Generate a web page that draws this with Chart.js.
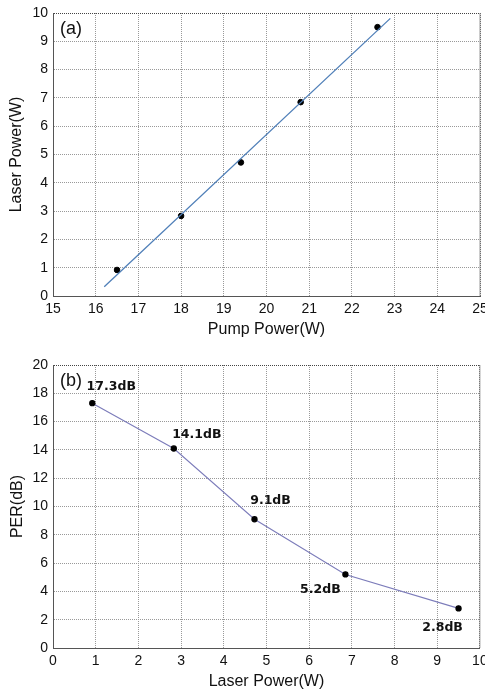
<!DOCTYPE html>
<html>
<head>
<meta charset="utf-8">
<script src="https://cdn.jsdelivr.net/npm/chart.js@4/dist/chart.umd.min.js"></script>
<style>
  body { margin: 0; background: #fff; }
  .panel { position: absolute; left: 0; width: 485px; height: 345px; }
</style>
</head>
<body>
<div class="panel" style="top:0"><canvas id="chartA" width="485" height="345"></canvas></div>
<div class="panel" style="top:345px"><canvas id="chartB" width="485" height="345"></canvas></div>
<script>
// data
var pumpPower = [16.5, 18.0, 19.4, 20.8, 22.6];
var laserPower = [0.92, 2.83, 4.72, 6.85, 9.5];
var fitPump = [16.2, 22.9];
var fitLaser = [0.33, 9.81];
var perValues = [17.3, 14.1, 9.1, 5.2, 2.8];
var perLabels = ['17.3dB', '14.1dB', '9.1dB', '5.2dB', '2.8dB'];

// pixel offsets of the dB labels from their points
var labelOffsets = [[19, -16], [23, -14], [16, -18], [-25, 15], [-16, 19]];

var tickFont = { family: '"Liberation Sans", Arial, sans-serif', size: 14 };
var titleFont = { family: '"Liberation Sans", Arial, sans-serif', size: 16, lineHeight: 1 };

function points(xs, ys) {
	var out = [];
	for (var i = 0; i < xs.length; i++) out.push({ x: xs[i], y: ys[i] });
	return out;
}

// fixed axis sizes so both plots line up like the figure
function fixWidth(w) {
	return function (scale) {
		scale.width = w;
		scale.paddingTop = 0;
		scale.paddingBottom = 0;
	};
}
function fixHeight(h) {
	return function (scale) {
		scale.height = h;
		scale.paddingLeft = 0;
		scale.paddingRight = 0;
	};
}

function gridColor(max) {
	return function (ctx) {
		return (ctx.tick && ctx.tick.value === max) ? '#444' : '#999';
	};
}

function makeAxis(min, max, step, title, titlePad, afterFit) {
	return {
		type: 'linear',
		min: min,
		max: max,
		afterFit: afterFit,
		ticks: { stepSize: step, color: '#111', font: tickFont, padding: 5 },
		grid: { color: gridColor(max), lineWidth: 1, drawTicks: false },
		border: { display: true, color: '#555', width: 1, dash: [1, 1] },
		title: { display: true, text: title, color: '#111', font: titleFont, padding: titlePad }
	};
}

// right frame line + panel letter + point labels
var framePlugin = {
	id: 'frame',
	afterDraw: function (chart, args, opts) {
		var ctx = chart.ctx;
		var a = chart.chartArea;
		ctx.save();
		ctx.strokeStyle = '#999';
		ctx.lineWidth = 1;
		ctx.beginPath();
		ctx.moveTo(a.right, a.top);
		ctx.lineTo(a.right, a.bottom);
		ctx.stroke();

		ctx.fillStyle = '#111';
		ctx.font = '18px "Liberation Sans", Arial, sans-serif';
		ctx.textBaseline = 'middle';
		ctx.textAlign = 'left';
		ctx.fillText(opts.letter, a.left + 7, a.top + 16);

		if (opts.labels) {
			var xs = chart.scales.x, ys = chart.scales.y;
			ctx.font = 'bold 12.5px "DejaVu Sans", sans-serif';
			ctx.textAlign = 'center';
			for (var i = 0; i < opts.labels.length; i++) {
				var px = xs.getPixelForValue(laserPower[i]) + labelOffsets[i][0];
				var py = ys.getPixelForValue(perValues[i]) + labelOffsets[i][1];
				ctx.fillText(opts.labels[i], px, py);
			}
		}
		ctx.restore();
	}
};

new Chart(document.getElementById('chartA'), {
	type: 'scatter',
	data: {
		datasets: [{
			data: points(fitPump, fitLaser),
			showLine: true,
			borderColor: '#4f7fb8',
			borderWidth: 1.3,
			pointRadius: 0
		}, {
			data: points(pumpPower, laserPower),
			backgroundColor: '#000',
			borderColor: '#000',
			pointRadius: 2.8
		}]
	},
	options: {
		responsive: false,
		animation: false,
		layout: { padding: { top: 13, right: 4, bottom: 0, left: 0 } },
		plugins: { legend: { display: false }, tooltip: { enabled: false }, frame: { letter: '(a)' } },
		scales: {
			x: makeAxis(15, 25, 1, 'Pump Power(W)', { top: 0, bottom: 7 }, fixHeight(49)),
			y: makeAxis(0, 10, 1, 'Laser Power(W)', { top: 9, bottom: 0 }, fixWidth(53))
		}
	},
	plugins: [framePlugin]
});

new Chart(document.getElementById('chartB'), {
	type: 'scatter',
	data: {
		datasets: [{
			data: points(laserPower, perValues),
			showLine: true,
			borderColor: '#7c7cba',
			borderWidth: 1.1,
			backgroundColor: '#000',
			pointBorderColor: '#000',
			pointBackgroundColor: '#000',
			pointRadius: 2.6
		}]
	},
	options: {
		responsive: false,
		animation: false,
		layout: { padding: { top: 20, right: 4, bottom: 0, left: 0 } },
		plugins: { legend: { display: false }, tooltip: { enabled: false }, frame: { letter: '(b)', labels: perLabels } },
		scales: {
			x: makeAxis(0, 10, 1, 'Laser Power(W)', { top: 0, bottom: 0 }, fixHeight(42)),
			y: makeAxis(0, 20, 2, 'PER(dB)', { top: 10, bottom: 0 }, fixWidth(53))
		}
	},
	plugins: [framePlugin]
});
</script>
</body>
</html>
